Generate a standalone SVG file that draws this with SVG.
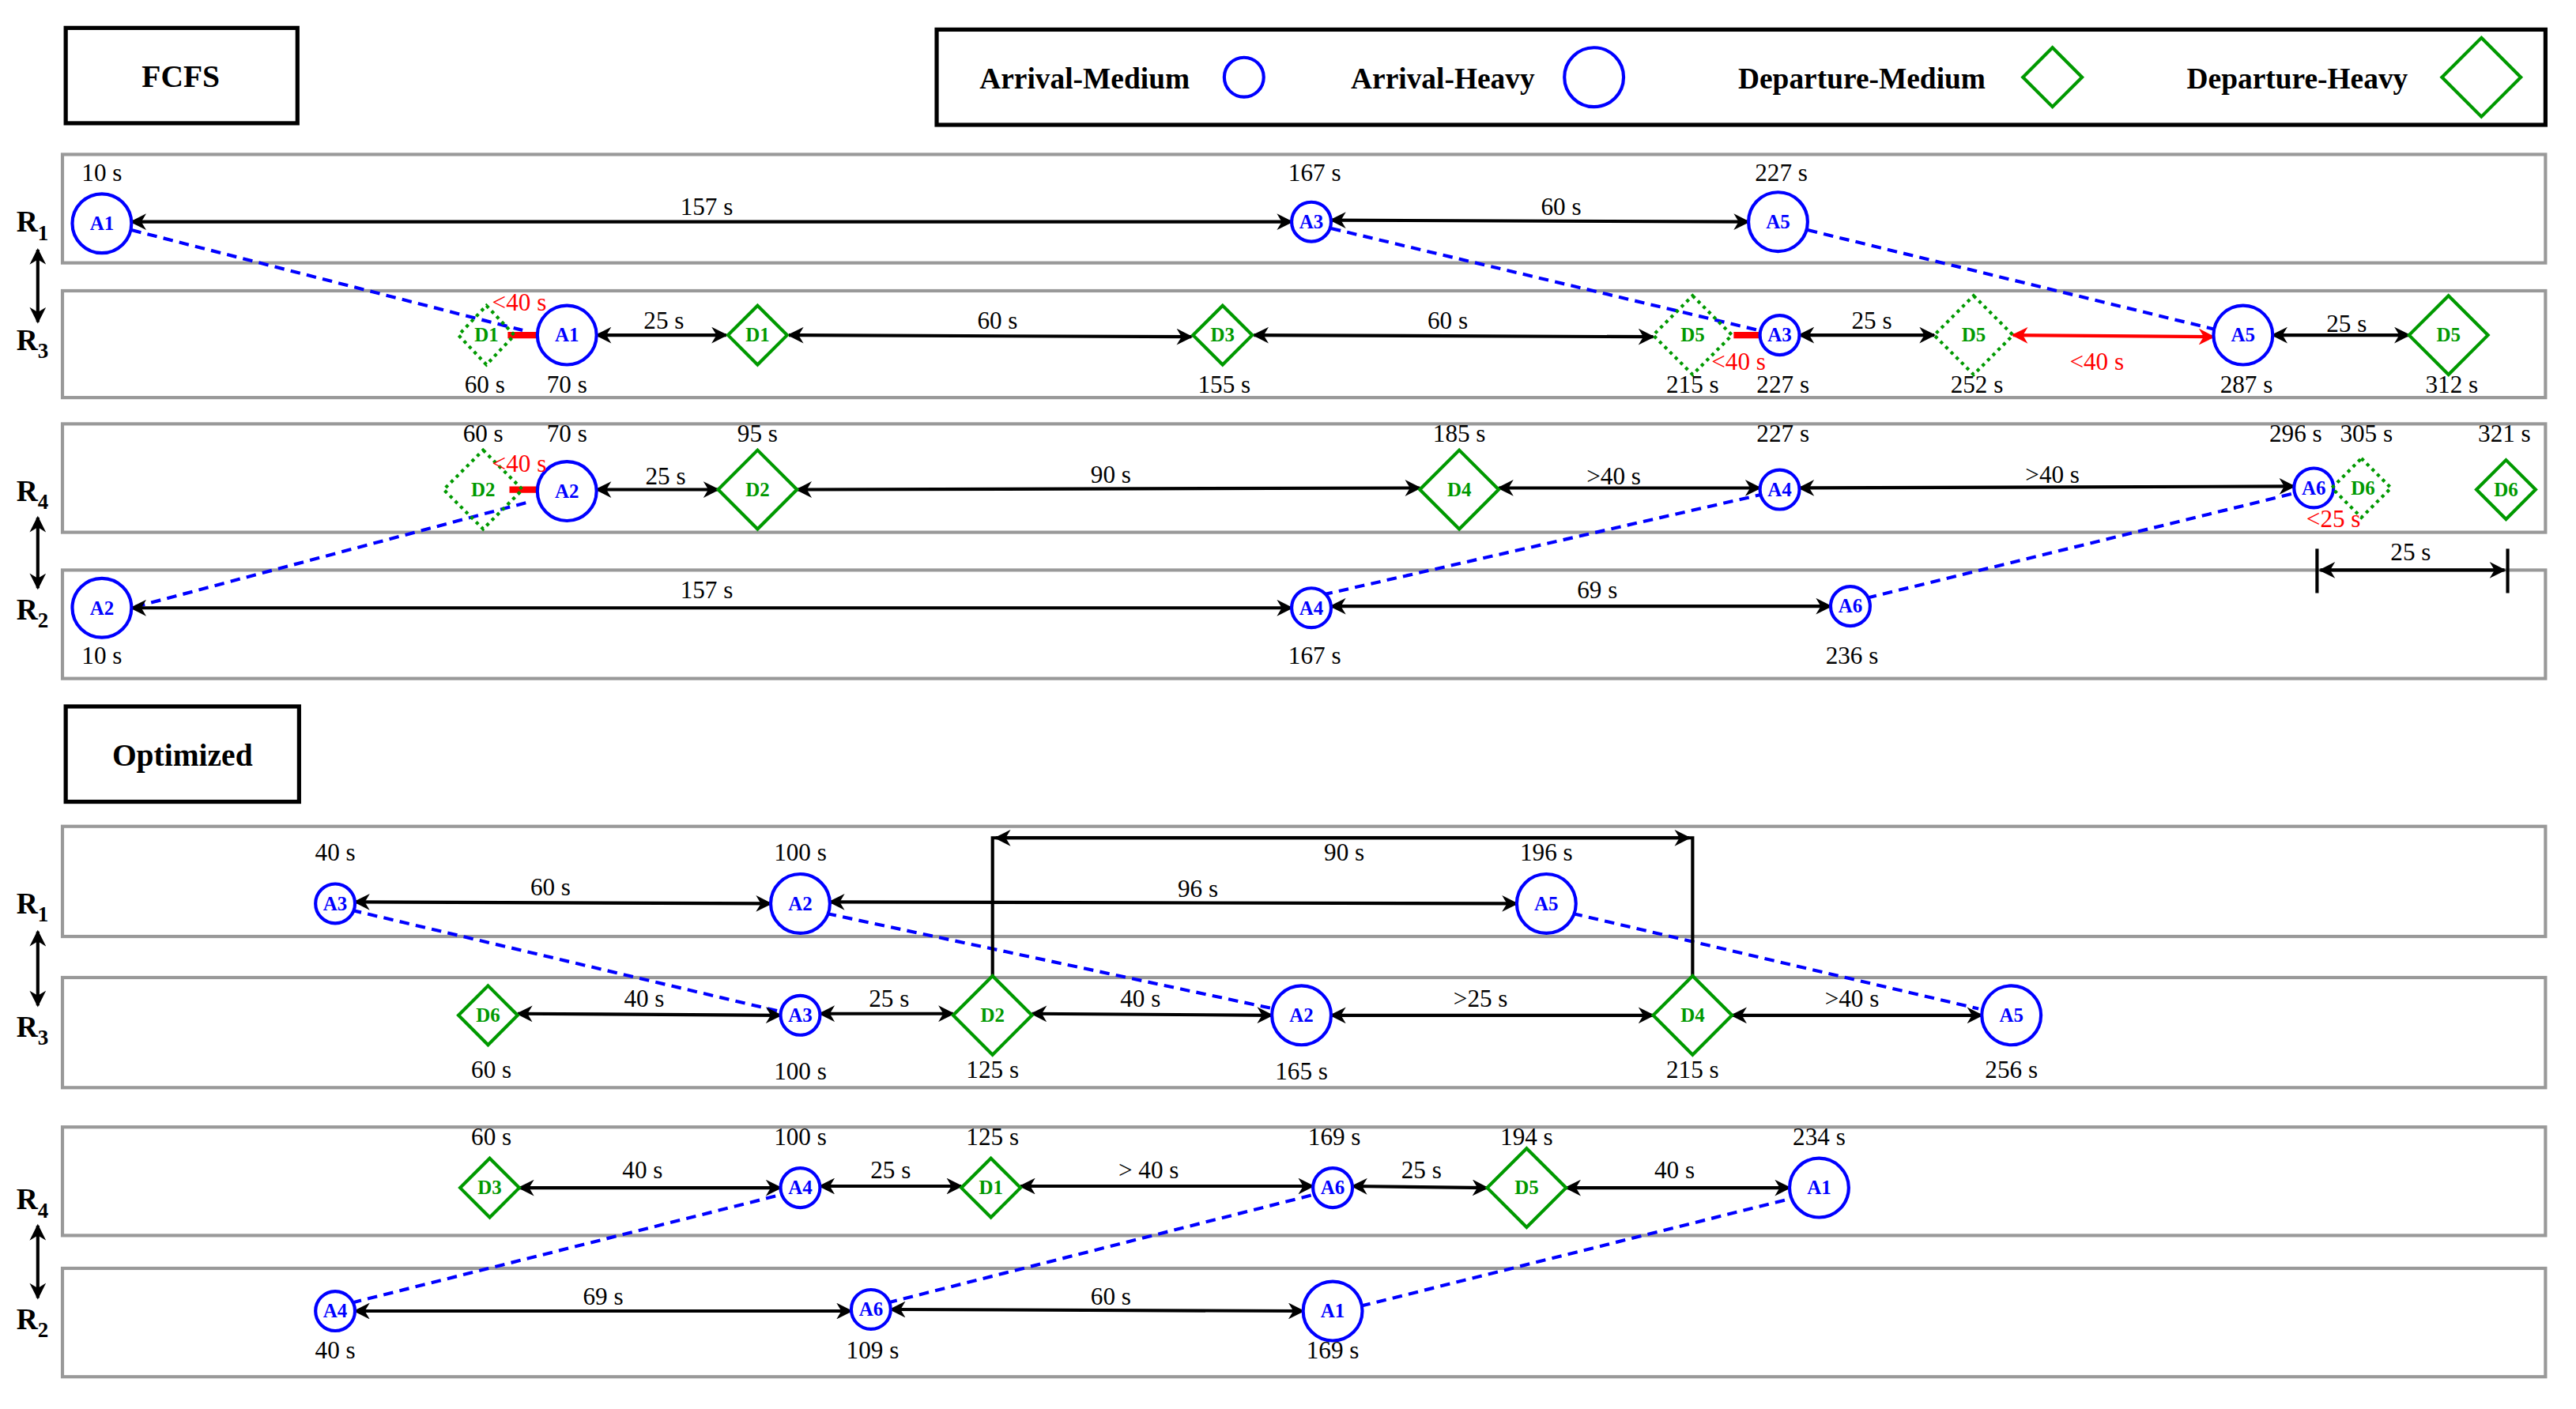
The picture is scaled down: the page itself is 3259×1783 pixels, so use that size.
<svg xmlns="http://www.w3.org/2000/svg" width="3259" height="1783" viewBox="0 0 3259 1783">
<style>
.lane{fill:none;stroke:#999;stroke-width:2}
.box{fill:none;stroke:#000;stroke-width:2.5}
.c{fill:#fff;stroke:#00f;stroke-width:2}
.d{fill:#fff;stroke:#090;stroke-width:2}
.dd{fill:none;stroke:#090;stroke-width:2;stroke-dasharray:2 2.5}
.nl{font-family:"Liberation Serif",serif;font-size:12px;font-weight:bold;text-anchor:middle}
.b{fill:#00f}.g{fill:#090}
.t{font-family:"Liberation Serif",serif;font-size:15px;text-anchor:middle;fill:#000}
.r{fill:#f00}
.ttl{font-family:"Liberation Serif",serif;font-size:19px;font-weight:bold;text-anchor:middle}
.lg{font-family:"Liberation Serif",serif;font-size:18px;font-weight:bold;text-anchor:middle}
.ar{stroke:#000;stroke-width:2;fill:none;marker-start:url(#ah);marker-end:url(#ah)}
.ra{stroke:#f00;stroke-width:2;fill:none;marker-start:url(#rh);marker-end:url(#rh)}
.bar{stroke:#f00;stroke-width:4}
.dl{stroke:#00f;stroke-width:2;stroke-dasharray:6 4;fill:none}
</style>
<defs>
<marker id="ah" viewBox="0 0 10 10" refX="9" refY="5" markerWidth="12" markerHeight="10" markerUnits="userSpaceOnUse" orient="auto-start-reverse"><path d="M0,0 L10,5 L0,10 L3,5z" fill="#000"/></marker>
<marker id="rh" viewBox="0 0 10 10" refX="9" refY="5" markerWidth="12" markerHeight="10" markerUnits="userSpaceOnUse" orient="auto-start-reverse"><path d="M0,0 L10,5 L0,10 L3,5z" fill="#f00"/></marker>
</defs>
<rect width="3259" height="1783" fill="#fff"/>
<g transform="scale(2.079)">
<g id="titles">
<rect class="box" x="40" y="17" width="141" height="58"/><text class="ttl" x="110" y="53">FCFS</text>
<rect class="box" x="40" y="430" width="142" height="58"/><text class="ttl" x="111" y="466">Optimized</text>
</g>
<g id="legend">
<rect class="box" x="570" y="18" width="979" height="58"/>
<text class="lg" x="660" y="54">Arrival-Medium</text><circle class="c" cx="757" cy="47" r="12"/>
<text class="lg" x="878" y="54">Arrival-Heavy</text><circle class="c" cx="970" cy="47" r="18"/>
<text class="lg" x="1133" y="54">Departure-Medium</text><polygon class="d" points="1249,29 1267,47 1249,65 1231,47"/>
<text class="lg" x="1398" y="54">Departure-Heavy</text><polygon class="d" points="1510,23 1534,47 1510,71 1486,47"/>
</g>
<g id="lanes">
<rect class="lane" x="38" y="94" width="1511" height="66"/>
<rect class="lane" x="38" y="177" width="1511" height="65"/>
<rect class="lane" x="38" y="258" width="1511" height="66"/>
<rect class="lane" x="38" y="347" width="1511" height="66"/>
<rect class="lane" x="38" y="503" width="1511" height="67"/>
<rect class="lane" x="38" y="595" width="1511" height="67"/>
<rect class="lane" x="38" y="686" width="1511" height="66"/>
<rect class="lane" x="38" y="772" width="1511" height="66"/>
</g>
<g id="runway-labels" font-family="Liberation Serif,serif" font-size="18" font-weight="bold">
<text x="10" y="141">R<tspan font-size="13" dy="5">1</tspan></text>
<text x="10" y="213">R<tspan font-size="13" dy="5">3</tspan></text>
<text x="10" y="305">R<tspan font-size="13" dy="5">4</tspan></text>
<text x="10" y="377">R<tspan font-size="13" dy="5">2</tspan></text>
<text x="10" y="556">R<tspan font-size="13" dy="5">1</tspan></text>
<text x="10" y="631">R<tspan font-size="13" dy="5">3</tspan></text>
<text x="10" y="736">R<tspan font-size="13" dy="5">4</tspan></text>
<text x="10" y="809">R<tspan font-size="13" dy="5">2</tspan></text>
</g>
<g id="connectors">
<line class="ar" x1="23" y1="152" x2="23" y2="196"/>
<line class="ar" x1="23" y1="315" x2="23" y2="358"/>
<line class="ar" x1="23" y1="567" x2="23" y2="612"/>
<line class="ar" x1="23" y1="746" x2="23" y2="790"/>
<line class="dl" x1="80" y1="140" x2="318" y2="201"/>
<line class="dl" x1="810" y1="139" x2="1070" y2="201"/>
<line class="dl" x1="1100" y1="140" x2="1350" y2="201"/>
<line class="dl" x1="320" y1="306" x2="80" y2="370"/>
<line class="dl" x1="805" y1="362" x2="1072" y2="301"/>
<line class="dl" x1="1136" y1="364" x2="1397" y2="300"/>
<line class="dl" x1="214" y1="554" x2="476" y2="616"/>
<line class="dl" x1="503" y1="556" x2="775" y2="614"/>
<line class="dl" x1="957" y1="556" x2="1204" y2="614"/>
<line class="dl" x1="214" y1="793" x2="476" y2="727"/>
<line class="dl" x1="540" y1="793" x2="800" y2="727"/>
<line class="dl" x1="828" y1="795" x2="1092" y2="729"/>
<line class="ar" x1="80" y1="135" x2="786" y2="135"/>
<line class="ar" x1="810" y1="134" x2="1064" y2="135"/>
<line class="bar" x1="309" y1="204" x2="328" y2="204"/>
<line class="ar" x1="363" y1="204" x2="442" y2="204"/>
<line class="ar" x1="480" y1="204" x2="725" y2="205"/>
<line class="ar" x1="763" y1="204" x2="1006" y2="205"/>
<line class="bar" x1="1055" y1="204" x2="1072" y2="204"/>
<line class="ar" x1="1095" y1="204" x2="1177" y2="204"/>
<line class="ra" x1="1225" y1="204" x2="1347" y2="205"/>
<line class="ar" x1="1383" y1="204" x2="1466" y2="204"/>
<line class="bar" x1="310" y1="298" x2="327" y2="298"/>
<line class="ar" x1="363" y1="298" x2="437" y2="298"/>
<line class="ar" x1="485" y1="298" x2="864" y2="297"/>
<line class="ar" x1="912" y1="297" x2="1071" y2="297"/>
<line class="ar" x1="1095" y1="297" x2="1396" y2="296"/>
<line stroke="#000" stroke-width="2" x1="1410" y1="334" x2="1410" y2="361"/>
<line stroke="#000" stroke-width="2" x1="1526" y1="334" x2="1526" y2="361"/>
<line class="ar" x1="1412" y1="347" x2="1524" y2="347"/>
<line class="ar" x1="80" y1="370" x2="786" y2="370"/>
<line class="ar" x1="810" y1="369" x2="1114" y2="369"/>
<line class="ar" x1="216" y1="549" x2="469" y2="550"/>
<line class="ar" x1="505" y1="549" x2="923" y2="550"/>
<polyline fill="none" stroke="#000" stroke-width="2" points="604,594 604,510 1030,510 1030,594"/>
<line class="ar" x1="606" y1="510" x2="1028" y2="510"/>
<line class="ar" x1="315" y1="617" x2="475" y2="618"/>
<line class="ar" x1="499" y1="617" x2="580" y2="617"/>
<line class="ar" x1="628" y1="617" x2="774" y2="618"/>
<line class="ar" x1="810" y1="618" x2="1006" y2="618"/>
<line class="ar" x1="1054" y1="618" x2="1206" y2="618"/>
<line class="ar" x1="316" y1="723" x2="475" y2="723"/>
<line class="ar" x1="499" y1="722" x2="585" y2="722"/>
<line class="ar" x1="621" y1="722" x2="799" y2="722"/>
<line class="ar" x1="823" y1="722" x2="905" y2="723"/>
<line class="ar" x1="953" y1="723" x2="1089" y2="723"/>
<line class="ar" x1="216" y1="798" x2="518" y2="798"/>
<line class="ar" x1="542" y1="797" x2="793" y2="798"/>
</g>
<g id="fcfs-r1">
<g id="f1-A1"><circle class="c" cx="62" cy="136" r="18"/><text class="nl b" x="62" y="140">A1</text></g>
<g id="f1-A3"><circle class="c" cx="798" cy="135" r="12"/><text class="nl b" x="798" y="139">A3</text></g>
<g id="f1-A5"><circle class="c" cx="1082" cy="135" r="18"/><text class="nl b" x="1082" y="139">A5</text></g>
</g>
<g id="fcfs-r3">
<g id="f3-D1d"><polygon class="dd" points="296,186 313,204 296,222 279,204"/><text class="nl g" x="296" y="208">D1</text></g>
<g id="f3-A1"><circle class="c" cx="345" cy="204" r="18"/><text class="nl b" x="345" y="208">A1</text></g>
<g id="f3-D1"><polygon class="d" points="461,186 479,204 461,222 443,204"/><text class="nl g" x="461" y="208">D1</text></g>
<g id="f3-D3"><polygon class="d" points="744,186 762,204 744,222 726,204"/><text class="nl g" x="744" y="208">D3</text></g>
<g id="f3-D5d"><polygon class="dd" points="1030,180 1054,204 1030,228 1006,204"/><text class="nl g" x="1030" y="208">D5</text></g>
<g id="f3-A3"><circle class="c" cx="1083" cy="204" r="12"/><text class="nl b" x="1083" y="208">A3</text></g>
<g id="f3-D5d2"><polygon class="dd" points="1201,180 1225,204 1201,228 1177,204"/><text class="nl g" x="1201" y="208">D5</text></g>
<g id="f3-A5"><circle class="c" cx="1365" cy="204" r="18"/><text class="nl b" x="1365" y="208">A5</text></g>
<g id="f3-D5"><polygon class="d" points="1490,180 1514,204 1490,228 1466,204"/><text class="nl g" x="1490" y="208">D5</text></g>
</g>
<g id="fcfs-r4">
<g id="f4-D2d"><polygon class="dd" points="294,274 318,298 294,322 270,298"/><text class="nl g" x="294" y="302">D2</text></g>
<g id="f4-A2"><circle class="c" cx="345" cy="299" r="18"/><text class="nl b" x="345" y="303">A2</text></g>
<g id="f4-D2"><polygon class="d" points="461,274 485,298 461,322 437,298"/><text class="nl g" x="461" y="302">D2</text></g>
<g id="f4-D4"><polygon class="d" points="888,274 912,298 888,322 864,298"/><text class="nl g" x="888" y="302">D4</text></g>
<g id="f4-A4"><circle class="c" cx="1083" cy="298" r="12"/><text class="nl b" x="1083" y="302">A4</text></g>
<g id="f4-A6"><circle class="c" cx="1408" cy="297" r="12"/><text class="nl b" x="1408" y="301">A6</text></g>
<g id="f4-D6d"><polygon class="dd" points="1437,279 1455,297 1437,315 1419,297"/><text class="nl g" x="1438" y="301">D6</text></g>
<g id="f4-D6"><polygon class="d" points="1525,280 1543,298 1525,316 1507,298"/><text class="nl g" x="1525" y="302">D6</text></g>
</g>
<g id="fcfs-r2">
<g id="f2-A2"><circle class="c" cx="62" cy="370" r="18"/><text class="nl b" x="62" y="374">A2</text></g>
<g id="f2-A4"><circle class="c" cx="798" cy="370" r="12"/><text class="nl b" x="798" y="374">A4</text></g>
<g id="f2-A6"><circle class="c" cx="1126" cy="369" r="12"/><text class="nl b" x="1126" y="373">A6</text></g>
</g>
<g id="opt-r1">
<g id="o1-A3"><circle class="c" cx="204" cy="550" r="12"/><text class="nl b" x="204" y="554">A3</text></g>
<g id="o1-A2"><circle class="c" cx="487" cy="550" r="18"/><text class="nl b" x="487" y="554">A2</text></g>
<g id="o1-A5"><circle class="c" cx="941" cy="550" r="18"/><text class="nl b" x="941" y="554">A5</text></g>
</g>
<g id="opt-r3">
<g id="o3-D6"><polygon class="d" points="297,600 315,618 297,636 279,618"/><text class="nl g" x="297" y="622">D6</text></g>
<g id="o3-A3"><circle class="c" cx="487" cy="618" r="12"/><text class="nl b" x="487" y="622">A3</text></g>
<g id="o3-D2"><polygon class="d" points="604,594 628,618 604,642 580,618"/><text class="nl g" x="604" y="622">D2</text></g>
<g id="o3-A2"><circle class="c" cx="792" cy="618" r="18"/><text class="nl b" x="792" y="622">A2</text></g>
<g id="o3-D4"><polygon class="d" points="1030,594 1054,618 1030,642 1006,618"/><text class="nl g" x="1030" y="622">D4</text></g>
<g id="o3-A5"><circle class="c" cx="1224" cy="618" r="18"/><text class="nl b" x="1224" y="622">A5</text></g>
</g>
<g id="opt-r4">
<g id="o4-D3"><polygon class="d" points="298,705 316,723 298,741 280,723"/><text class="nl g" x="298" y="727">D3</text></g>
<g id="o4-A4"><circle class="c" cx="487" cy="723" r="12"/><text class="nl b" x="487" y="727">A4</text></g>
<g id="o4-D1"><polygon class="d" points="603,705 621,723 603,741 585,723"/><text class="nl g" x="603" y="727">D1</text></g>
<g id="o4-A6"><circle class="c" cx="811" cy="723" r="12"/><text class="nl b" x="811" y="727">A6</text></g>
<g id="o4-D5"><polygon class="d" points="929,699 953,723 929,747 905,723"/><text class="nl g" x="929" y="727">D5</text></g>
<g id="o4-A1"><circle class="c" cx="1107" cy="723" r="18"/><text class="nl b" x="1107" y="727">A1</text></g>
</g>
<g id="opt-r2">
<g id="o2-A4"><circle class="c" cx="204" cy="798" r="12"/><text class="nl b" x="204" y="802">A4</text></g>
<g id="o2-A6"><circle class="c" cx="530" cy="797" r="12"/><text class="nl b" x="530" y="801">A6</text></g>
<g id="o2-A1"><circle class="c" cx="811" cy="798" r="18"/><text class="nl b" x="811" y="802">A1</text></g>
</g>
<g id="labels">
<text class="t" x="62" y="110">10 s</text><text class="t" x="800" y="110">167 s</text><text class="t" x="1084" y="110">227 s</text>
<text class="t" x="430" y="131">157 s</text><text class="t" x="950" y="131">60 s</text>
<text class="t r" x="316" y="189">&lt;40 s</text>
<text class="t" x="404" y="200">25 s</text><text class="t" x="607" y="200">60 s</text><text class="t" x="881" y="200">60 s</text>
<text class="t" x="1139" y="200">25 s</text><text class="t" x="1428" y="202">25 s</text>
<text class="t r" x="1058" y="225">&lt;40 s</text><text class="t r" x="1276" y="225">&lt;40 s</text>
<text class="t" x="295" y="239">60 s</text><text class="t" x="345" y="239">70 s</text><text class="t" x="745" y="239">155 s</text>
<text class="t" x="1030" y="239">215 s</text><text class="t" x="1085" y="239">227 s</text><text class="t" x="1203" y="239">252 s</text>
<text class="t" x="1367" y="239">287 s</text><text class="t" x="1492" y="239">312 s</text>
<text class="t" x="294" y="269">60 s</text><text class="t" x="345" y="269">70 s</text><text class="t" x="461" y="269">95 s</text>
<text class="t" x="888" y="269">185 s</text><text class="t" x="1085" y="269">227 s</text><text class="t" x="1397" y="269">296 s</text>
<text class="t" x="1440" y="269">305 s</text><text class="t" x="1524" y="269">321 s</text>
<text class="t r" x="316" y="287">&lt;40 s</text>
<text class="t" x="405" y="295">25 s</text><text class="t" x="676" y="294">90 s</text><text class="t" x="982" y="295">&gt;40 s</text><text class="t" x="1249" y="294">&gt;40 s</text>
<text class="t r" x="1420" y="321">&lt;25 s</text>
<text class="t" x="1467" y="341">25 s</text>
<text class="t" x="430" y="364">157 s</text><text class="t" x="972" y="364">69 s</text>
<text class="t" x="62" y="404">10 s</text><text class="t" x="800" y="404">167 s</text><text class="t" x="1127" y="404">236 s</text>
<text class="t" x="204" y="524">40 s</text><text class="t" x="487" y="524">100 s</text><text class="t" x="941" y="524">196 s</text>
<text class="t" x="818" y="524">90 s</text>
<text class="t" x="335" y="545">60 s</text><text class="t" x="729" y="546">96 s</text>
<text class="t" x="392" y="613">40 s</text><text class="t" x="541" y="613">25 s</text><text class="t" x="694" y="613">40 s</text>
<text class="t" x="901" y="613">&gt;25 s</text><text class="t" x="1127" y="613">&gt;40 s</text>
<text class="t" x="299" y="656">60 s</text><text class="t" x="487" y="657">100 s</text><text class="t" x="604" y="656">125 s</text>
<text class="t" x="792" y="657">165 s</text><text class="t" x="1030" y="656">215 s</text><text class="t" x="1224" y="656">256 s</text>
<text class="t" x="299" y="697">60 s</text><text class="t" x="487" y="697">100 s</text><text class="t" x="604" y="697">125 s</text>
<text class="t" x="812" y="697">169 s</text><text class="t" x="929" y="697">194 s</text><text class="t" x="1107" y="697">234 s</text>
<text class="t" x="391" y="717">40 s</text><text class="t" x="542" y="717">25 s</text><text class="t" x="699" y="717">&gt; 40 s</text>
<text class="t" x="865" y="717">25 s</text><text class="t" x="1019" y="717">40 s</text>
<text class="t" x="367" y="794">69 s</text><text class="t" x="676" y="794">60 s</text>
<text class="t" x="204" y="827">40 s</text><text class="t" x="531" y="827">109 s</text><text class="t" x="811" y="827">169 s</text>
</g>
</g>
</svg>
